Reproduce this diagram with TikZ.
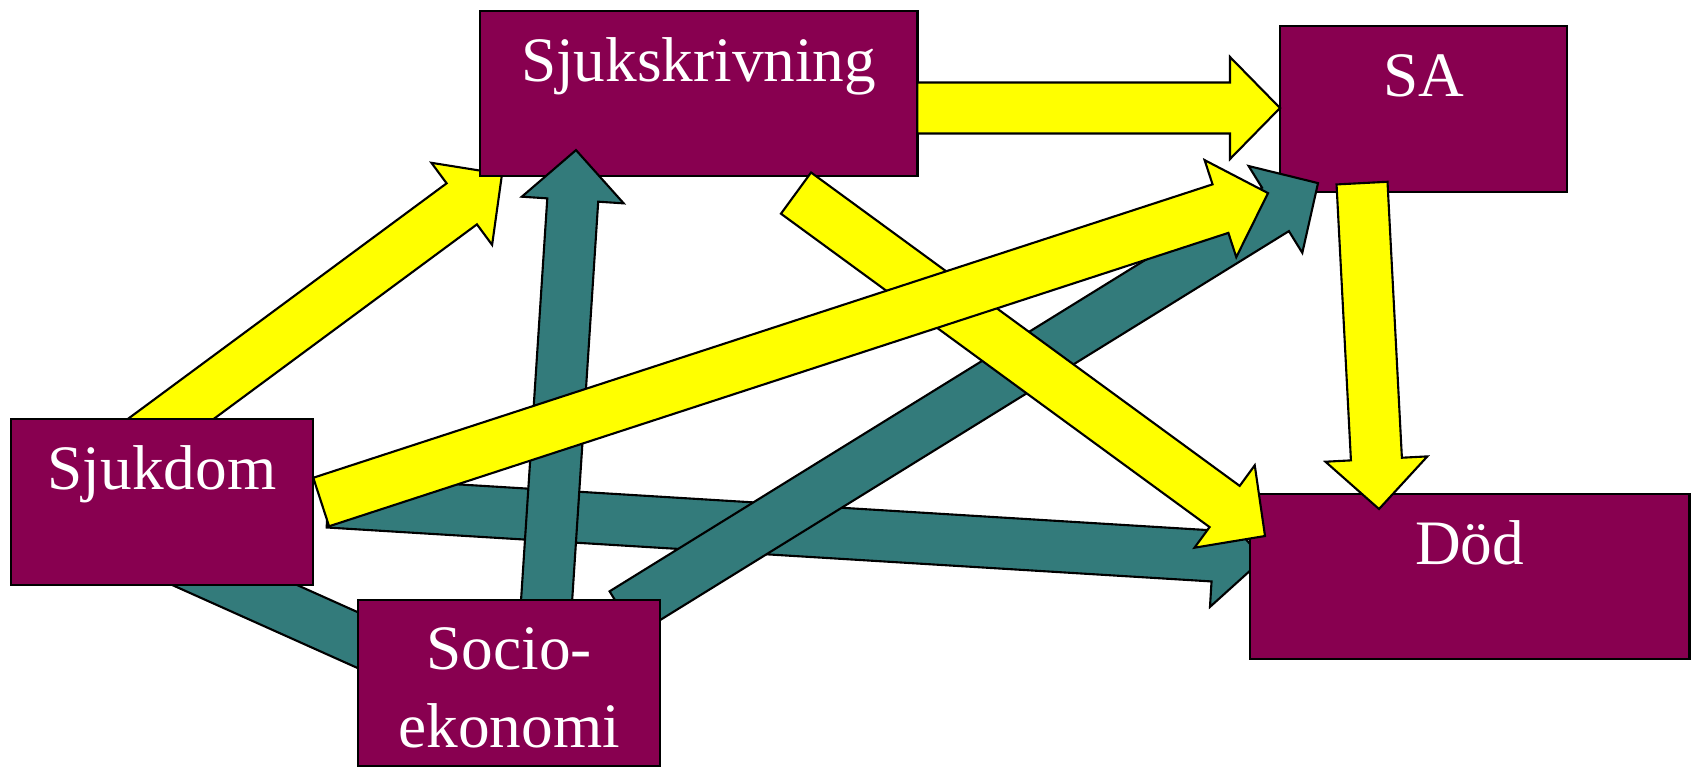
\documentclass[tikz,border=0pt]{standalone}
\usepackage{fontspec}
\setmainfont{Liberation Serif}
\usepackage{xcolor}
\definecolor{boxpurple}{HTML}{880050}
\definecolor{arrowteal}{HTML}{337B7B}
\definecolor{arrowyellow}{HTML}{FFFF00}
\usetikzlibrary{calc, positioning}
\pgfdeclarelayer{back}
\pgfdeclarelayer{front}
\pgfsetlayers{back,main,front}

\begin{document}
\begin{tikzpicture}[
  x=0.01cm, y=-0.01cm,
  box/.style={draw=black, fill=boxpurple, line width=0.7pt, anchor=north west,
              inner sep=0pt, outer sep=0pt},
  boxtext/.style={anchor=base, text=white, inner sep=0pt, align=center,
                  font=\fontsize{18}{22}\selectfont, yshift=-0.70cm},
  yellowarrow/.style={draw=black, fill=arrowyellow, line width=0.6pt, line join=miter},
  tealarrow/.style={draw=black, fill=arrowteal, line width=0.6pt, line join=miter}
]
  \begin{pgfonlayer}{back}
    \fill[white] (0,0) rectangle (1692,772);
  \end{pgfonlayer}
  \useasboundingbox (0,0) rectangle (1692,772);

  \def\shafthw{0.255cm}
  \def\headhw{0.51cm}
  \def\headlen{0.50cm}

  \newcommand{\blockarrow}[3]{%
    \coordinate (ba-a) at (#2);
    \coordinate (ba-b) at (#3);
    \coordinate (ba-h) at ($(ba-b)!\headlen!(ba-a)$);
    \draw[#1] ($(ba-a)!\shafthw!90:(ba-b)$) -- ($(ba-h)!\shafthw!-90:(ba-a)$)
      -- ($(ba-h)!\headhw!-90:(ba-a)$) -- (ba-b) -- ($(ba-h)!\headhw!90:(ba-a)$)
      -- ($(ba-h)!\shafthw!90:(ba-a)$) -- ($(ba-a)!\shafthw!-90:(ba-b)$) -- cycle;
  }
  \newcommand{\tealband}[2]{%
    \coordinate (bb-a) at (#1);
    \coordinate (bb-b) at (#2);
    \draw[tealarrow] ($(bb-a)!\shafthw!90:(bb-b)$) -- ($(bb-b)!\shafthw!-90:(bb-a)$)
      -- ($(bb-b)!\shafthw!90:(bb-a)$) -- ($(bb-a)!\shafthw!-90:(bb-b)$) -- cycle;
  }

  \node[box, minimum width=4.37cm, minimum height=1.65cm,
        label={[boxtext]north:Sjukskrivning}] (sjukskr) at (480,11) {};
  \node[box, minimum width=2.87cm, minimum height=1.66cm,
        label={[boxtext]north:SA}] (sa) at (1280,26) {};
  \node[box, minimum width=3.02cm, minimum height=1.66cm,
        label={[boxtext]north:Sjukdom}] (sjukdom) at (11,419) {};
  \node[box, minimum width=4.39cm, minimum height=1.65cm,
        label={[boxtext]north:Död}] (dod) at (1250,494) {};
  \begin{pgfonlayer}{front}
    \node[box, minimum width=3.02cm, minimum height=1.66cm,
          label={[boxtext, yshift=-0.77cm]north:{Socio-\\ekonomi}}] (socio) at (358,600) {};
  \end{pgfonlayer}

  % arrows under the boxes
  \begin{pgfonlayer}{back}
    \tealband{$(sjukdom.south west)+(139,-38)$}{$(socio.north west)+(62,68)$}
    \blockarrow{tealarrow}{$(sjukdom.north east)+(15,83)$}{$(dod.north west)+(13,65)$}
    \blockarrow{yellowarrow}{$(sjukdom.north west)+(111,36)$}{$(sjukskr.south west)+(22,-2)$}
  \end{pgfonlayer}

  \blockarrow{tealarrow}{$(socio.north west)+(186,40)$}{$(sjukskr.south west)+(96,-26)$}
  \blockarrow{tealarrow}{$(socio.north west)+(265,13)$}{$(sa.south west)+(38,-9)$}
  \blockarrow{yellowarrow}{$(sjukskr.south west)+(316,17)$}{$(dod.north west)+(15,42)$}
  \blockarrow{yellowarrow}{$(sjukdom.north east)+(8,83)$}{$(sa.south west)+(-12,1)$}
  \blockarrow{yellowarrow}{$(sjukskr.north east)+(0,97)$}{$(sa.north west)+(0,82)$}
  \blockarrow{yellowarrow}{$(sa.south west)+(82,-9)$}{$(dod.north west)+(129,15)$}
\end{tikzpicture}
\end{document}
